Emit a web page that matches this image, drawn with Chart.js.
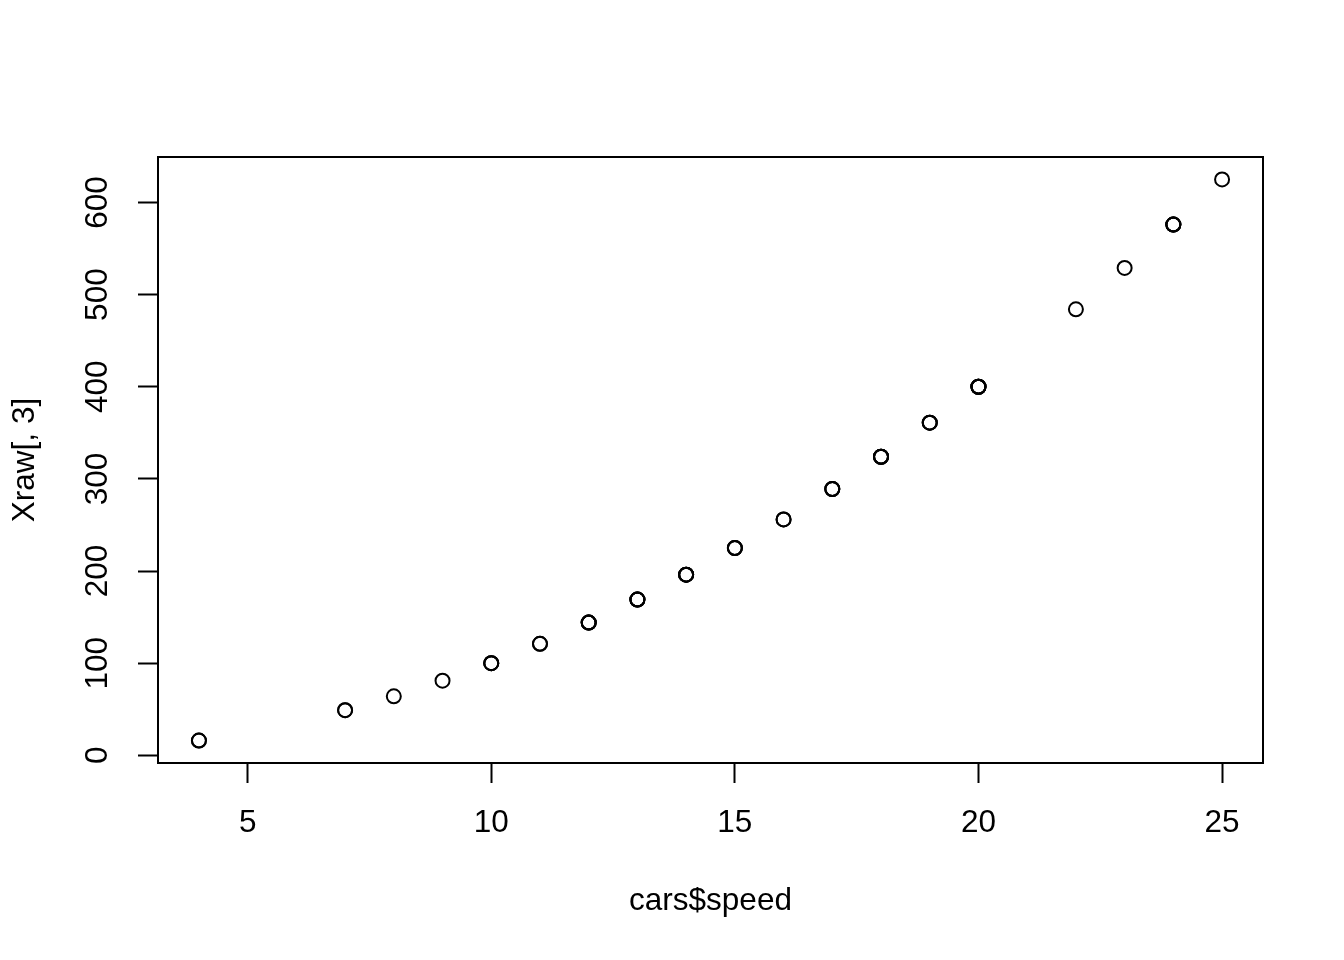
<!DOCTYPE html>
<html>
<head>
<meta charset="utf-8">
<script src="https://cdn.jsdelivr.net/npm/chart.js@4/dist/chart.umd.min.js"></script>
<style>
  html, body { margin: 0; padding: 0; background: #fff; }
  #wrap { width: 1344px; height: 960px; }
</style>
</head>
<body>
<div id="wrap"><canvas id="plot" width="1344" height="960"></canvas></div>
<script>
// cars$speed and Xraw[, 3] (speed squared)
const speed = [4, 4, 7, 7, 8, 9, 10, 10, 10, 11, 11, 12, 12, 12, 12, 13, 13, 13, 13, 14, 14, 14, 14, 15, 15, 15, 16, 16, 17, 17, 17, 18, 18, 18, 18, 19, 19, 19, 20, 20, 20, 20, 20, 22, 23, 24, 24, 24, 24, 25];
const xraw3 = [16, 16, 49, 49, 64, 81, 100, 100, 100, 121, 121, 144, 144, 144, 144, 169, 169, 169, 169, 196, 196, 196, 196, 225, 225, 225, 256, 256, 289, 289, 289, 324, 324, 324, 324, 361, 361, 361, 400, 400, 400, 400, 400, 484, 529, 576, 576, 576, 576, 625];
const xTicks = [5, 10, 15, 20, 25];
const yTicks = [0, 100, 200, 300, 400, 500, 600];

const points = speed.map((s, i) => ({ x: s, y: xraw3[i] }));
const font = { family: 'Liberation Sans, Arial, Helvetica, sans-serif', size: 31.5 };

// box around the plot region, like R's box()
const boxPlugin = {
    id: 'box',
    afterDraw(chart) {
        const a = chart.chartArea, ctx = chart.ctx;
        ctx.save();
        ctx.strokeStyle = '#000';
        ctx.lineWidth = 2;
        ctx.strokeRect(a.left, a.top, a.right - a.left, a.bottom - a.top);
        ctx.restore();
    }
};

new Chart(document.getElementById('plot'), {
    type: 'scatter',
    data: {
        datasets: [{
            data: points,
            pointStyle: 'circle',
            pointRadius: 7,
            pointBorderWidth: 2,
            borderColor: '#000',
            backgroundColor: 'rgba(0,0,0,0)'
        }]
    },
    options: {
        responsive: false,
        animation: false,
        devicePixelRatio: 1,
        layout: { padding: { top: 157, right: 81, left: 0, bottom: 0 } },
        plugins: { legend: { display: false }, tooltip: { enabled: false } },
        scales: {
            x: {
                type: 'linear',
                min: 3.16, max: 25.84,
                afterBuildTicks: s => { s.ticks = xTicks.map(v => ({ value: v })); },
                afterFit: s => { s.height = 197; },
                border: { display: false },
                grid: { drawOnChartArea: false, drawTicks: true, tickLength: 20, tickWidth: 2, tickColor: '#000' },
                ticks: { color: '#000', font: font, padding: 21, maxRotation: 0 },
                title: { display: true, text: 'cars$speed', color: '#000', font: font, padding: { top: 0, bottom: 40 } }
            },
            y: {
                type: 'linear',
                min: -8.36, max: 649.36,
                afterBuildTicks: s => { s.ticks = yTicks.map(v => ({ value: v })); },
                afterFit: s => { s.width = 158; },
                border: { display: false },
                grid: { drawOnChartArea: false, drawTicks: true, tickLength: 20, tickWidth: 2, tickColor: '#000' },
                ticks: { color: '#000', font: font, padding: 13, minRotation: 90, maxRotation: 90, crossAlign: 'center' },
                title: { display: true, text: 'Xraw[, 3]', color: '#000', font: font, padding: { top: 6, bottom: 0 } }
            }
        }
    },
    plugins: [boxPlugin]
});
</script>
</body>
</html>
